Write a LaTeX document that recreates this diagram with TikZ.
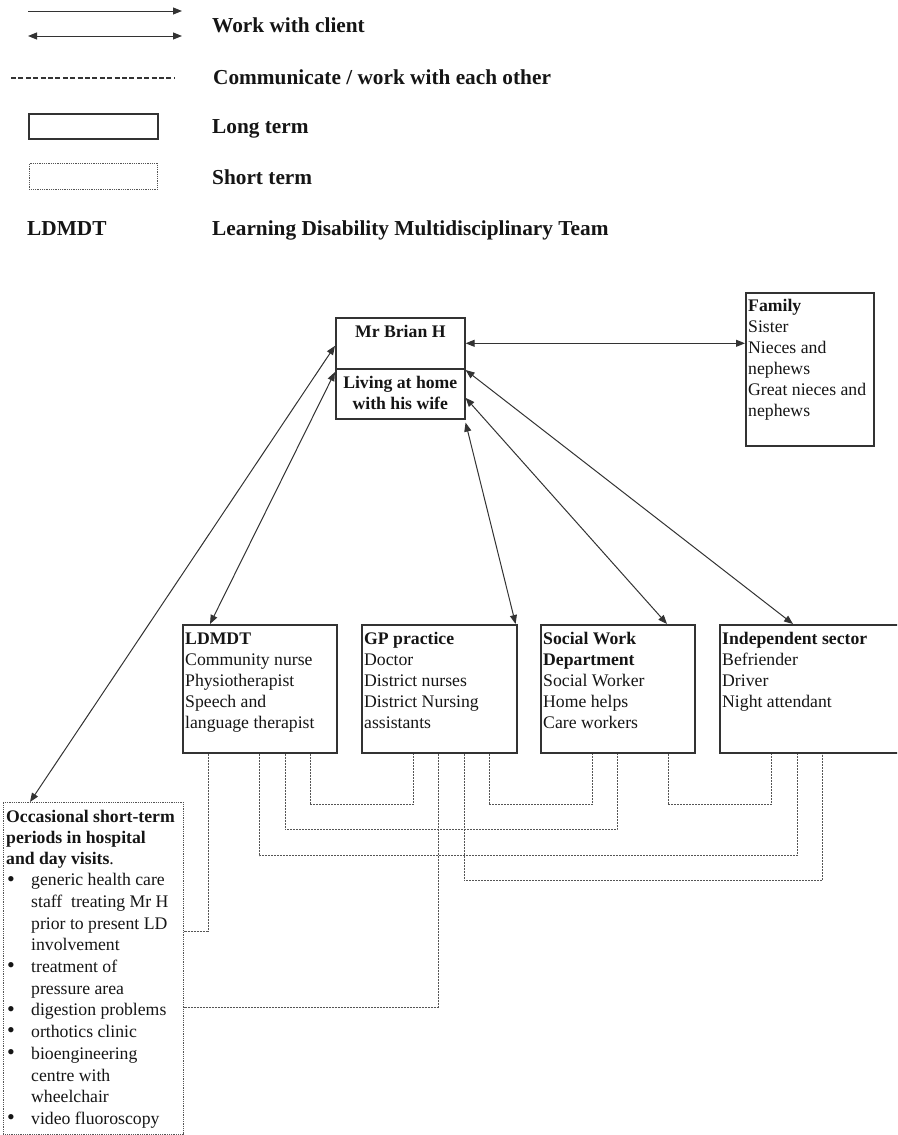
\documentclass[tikz,border=0pt]{standalone}
\usepackage{fontspec}
\setmainfont{Liberation Serif}
\usetikzlibrary{arrows.meta,calc}
\newcommand\bxfont{\fontsize{17.7}{21}\selectfont}
\newcommand\lgfont{\fontsize{21.3}{25}\selectfont\bfseries}
\newcommand\bul{\makebox[25pt][l]{\hspace{1pt}\raisebox{-0.3pt}{\scalebox{1.25}{\textbullet}}}}
\newcommand\ind{\hspace*{25pt}}
\definecolor{ln}{HTML}{333333}
\definecolor{tx}{HTML}{151515}
\definecolor{dt}{HTML}{555555}
\begin{document}
\begin{tikzpicture}[x=1pt,y=-1pt,
  boxl/.style={draw=ln, line width=1.6pt, inner sep=0pt, anchor=north west},
  boxs/.style={draw=dt, line width=0.9pt, dash pattern=on 1pt off 0.8pt, inner sep=0pt, anchor=north west},
  txt/.style={inner sep=0pt, anchor=base west, text=tx, font=\bxfont},
  lgtxt/.style={inner sep=0pt, anchor=base west, text=tx, font=\lgfont},
  arr/.style={draw=ln, line width=1pt, {Triangle[length=9pt,width=7pt]}-{Triangle[length=9pt,width=7pt]}},
  arrone/.style={draw=ln, line width=1pt, -{Triangle[length=9pt,width=7pt]}},
  comm/.style={draw=dt, line width=0.9pt, dash pattern=on 2pt off 1pt},
  lgdash/.style={draw=ln, line width=2.6pt, dash pattern=on 5pt off 2.4pt},
]
\useasboundingbox (0,0) rectangle (897,1135);
\clip (0,0) rectangle (897,1135);

% ---------- legend ----------
\coordinate (la1) at (28,11);  \coordinate (lb1) at (182,11);
\coordinate (la2) at (28,36);  \coordinate (lb2) at (182,36);
\coordinate (ld1) at (11,78);  \coordinate (ld2) at (174,78);
\draw[arrone] (la1) -- (lb1);
\draw[arr] (la2) -- (lb2);
\draw[lgdash] (ld1) -- (ld2);
\node[boxl, minimum width=129pt, minimum height=25pt] (lglong) at (28,113) {};
\node[boxs, minimum width=128pt, minimum height=26pt] (lgshort) at (29,163) {};
\node[lgtxt] (lg1) at (212,32) {Work with client};
\node[lgtxt] (lg2) at (213,84) {Communicate / work with each other};
\node[lgtxt] (lg3) at (212,133) {Long term};
\node[lgtxt] (lg4) at (212,184) {Short term};
\node[lgtxt] (lg5) at (27,235) {LDMDT};
\node[lgtxt] (lg6) at (212,235) {Learning Disability Multidisciplinary Team};

% ---------- boxes ----------
\node[boxl, minimum width=129pt, minimum height=51pt] (brian) at (335,317) {};
\node[boxl, minimum width=129pt, minimum height=50pt] (living) at (335,368) {};
\node[boxl, minimum width=128pt, minimum height=153pt] (family) at (745,292) {};
\node[boxl, minimum width=154pt, minimum height=128pt] (ldmdt) at (182,624) {};
\node[boxl, minimum width=155pt, minimum height=128pt] (gp) at (361,624) {};
\node[boxl, minimum width=154pt, minimum height=128pt] (sw) at (540,624) {};
\node[boxl, minimum width=190pt, minimum height=128pt] (indep) at (719,624) {};
\node[boxs, minimum width=180pt, minimum height=332pt] (hosp) at (3,802) {};

% ---------- box texts ----------
\node[txt, anchor=base] (brian-t) at ($(brian.north)+(0,20.5)$) {\textbf{Mr Brian H}};
\node[txt, anchor=base] (living-t) at ($(living.north)+(0,20.5)$)
  {\begin{tabular}[t]{@{}c@{}}\textbf{Living at home}\\\textbf{with his wife}\end{tabular}};
\node[txt] (family-t) at ($(family.north west)+(3,19)$)
  {\begin{tabular}[t]{@{}l@{}}\textbf{Family}\\Sister\\Nieces and\\nephews\\Great nieces and\\nephews\end{tabular}};
\node[txt] (ldmdt-t) at ($(ldmdt.north west)+(3,20)$)
  {\begin{tabular}[t]{@{}l@{}}\textbf{LDMDT}\\Community nurse\\Physiotherapist\\Speech and\\language therapist\end{tabular}};
\node[txt] (gp-t) at ($(gp.north west)+(3,20)$)
  {\begin{tabular}[t]{@{}l@{}}\textbf{GP practice}\\Doctor\\District nurses\\District Nursing\\assistants\end{tabular}};
\node[txt] (sw-t) at ($(sw.north west)+(3,20)$)
  {\begin{tabular}[t]{@{}l@{}}\textbf{Social Work}\\\textbf{Department}\\Social Worker\\Home helps\\Care workers\end{tabular}};
\node[txt] (indep-t) at ($(indep.north west)+(3,20)$)
  {\begin{tabular}[t]{@{}l@{}}\textbf{Independent sector}\\Befriender\\Driver\\Night attendant\end{tabular}};
\node[txt] (hosp-t) at ($(hosp.north west)+(3,20)$)
  {\begin{tabular}[t]{@{}l@{}}\textbf{Occasional short-term}\\
   \textbf{periods in hospital}\\
   \textbf{and day visits}.\\[0.7pt]
   \bul generic health care\\[0.7pt]
   \ind staff\ \ treating Mr H\\[0.7pt]
   \ind prior to present LD\\[0.7pt]
   \ind involvement\\[0.7pt]
   \bul treatment of\\[0.7pt]
   \ind pressure area\\[0.7pt]
   \bul digestion problems\\[0.7pt]
   \bul orthotics clinic\\[0.7pt]
   \bul bioengineering\\[0.7pt]
   \ind centre with\\[0.7pt]
   \ind wheelchair\\[0.7pt]
   \bul video fluoroscopy\end{tabular}};

% ---------- work-with-client arrows ----------
\draw[arr] (brian.east) -- (brian.east -| family.west);
\draw[arr] ($(brian.west)+(0,2.5)$) -- ($(hosp.north west)+(27,0)$);
\draw[arr] ($(living.north west)+(0,4)$) -- ($(ldmdt.north west)+(28,0)$);
\draw[arr] ($(living.south east)+(0,3)$) -- ($(gp.north east)+(-2,0)$);
\draw[arr] ($(living.east)+(0,4)$) -- ($(sw.north west)+(127,0)$);
\draw[arr] ($(living.north east)+(0,2)$) -- ($(indep.north west)+(74,0)$);

% ---------- communicate connectors ----------
\draw[comm] ($(ldmdt.south west)+(128,0)$) -- ++(0,51) -| ($(gp.south west)+(52,0)$);
\draw[comm] ($(ldmdt.south west)+(103,0)$) -- ++(0,76) -| ($(sw.south west)+(77,0)$);
\draw[comm] ($(ldmdt.south west)+(77,0)$) -- ++(0,102) -| ($(indep.south west)+(78,0)$);
\draw[comm] ($(ldmdt.south west)+(26,0)$) |- ($(hosp.north east)+(0,129)$);
\draw[comm] ($(gp.south west)+(77,0)$) |- ($(hosp.north east)+(0,205)$);
\draw[comm] ($(gp.south west)+(128,0)$) -- ++(0,51) -| ($(sw.south west)+(52,0)$);
\draw[comm] ($(gp.south west)+(103,0)$) -- ++(0,127) -| ($(indep.south west)+(103,0)$);
\draw[comm] ($(sw.south west)+(128,0)$) -- ++(0,51) -| ($(indep.south west)+(52,0)$);
\end{tikzpicture}
\end{document}
